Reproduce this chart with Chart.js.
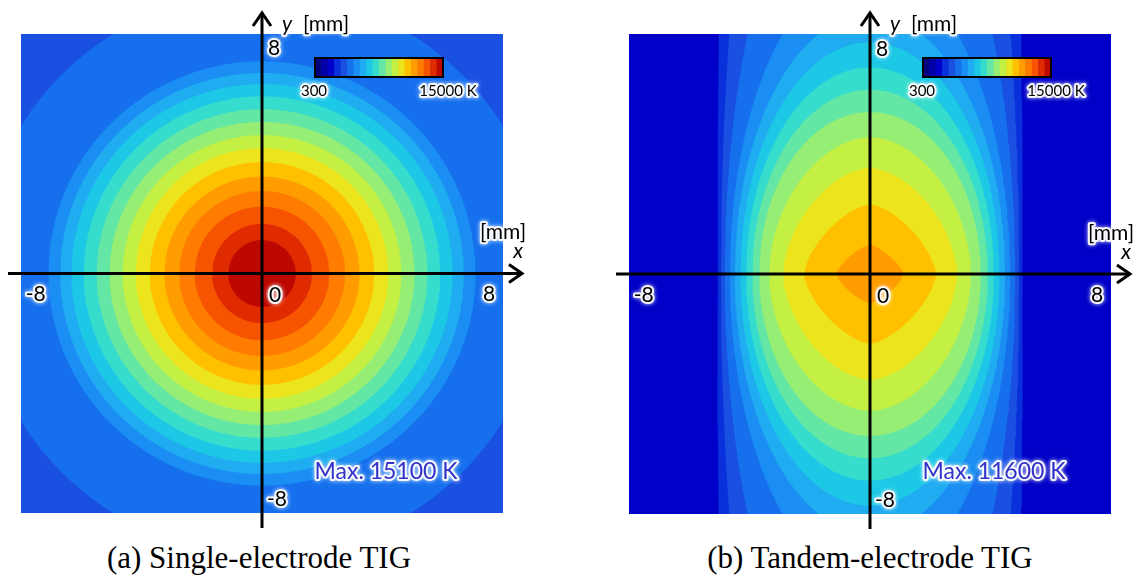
<!DOCTYPE html>
<html>
<head>
<meta charset="utf-8">
<script src="https://cdn.jsdelivr.net/npm/chart.js@4.4.1/dist/chart.umd.min.js"></script>
<style>
  html, body { margin: 0; padding: 0; background: #fff; }
  body { position: relative; width: 1143px; height: 583px; overflow: hidden; }
  .panel { position: absolute; top: 0; }
  #panelA { left: 0; }
  #panelB { left: 600px; }
  .caption {
    position: absolute; top: 540px; width: 420px; text-align: center;
    font-family: "Liberation Serif", "Times New Roman", serif; font-size: 31px; color: #000;
    white-space: nowrap;
  }
  #capA { left: 49px; }
  #capB { left: 660px; }
</style>
</head>
<body>
<canvas id="panelA" class="panel" width="540" height="540"></canvas>
<canvas id="panelB" class="panel" width="543" height="540"></canvas>
<div id="capA" class="caption">(a) Single-electrode TIG</div>
<div id="capB" class="caption">(b) Tandem-electrode TIG</div>

<script>
// Temperature scale: 20 equal bands from 300 K to 15000 K
const tempRangeK = [300, 15000];
const bandColors = [
  '#000080', '#0000a8', '#0000c8', '#0a30dc', '#1a50e2',
  '#1670ee', '#1a8ef2', '#20acf0', '#1cc8e6', '#36dccc',
  '#64e6a4', '#96ee74', '#c4f044', '#ece41c', '#ffc000',
  '#ff9c00', '#ff7c00', '#f65400', '#e02a00', '#bc0800'
];

// Plot window and labelled ticks [mm]
const axisRange = [-8.6, 8.6];
const axisTicks = [-8, 8];

// (a) single electrode: isotherms, innermost first (band enclosed, half-widths in x / y [mm])
const singleMaxK = 15100;
const singleBands = [19, 18, 17, 16, 15, 14, 13, 12, 11, 10, 9, 8, 7, 6, 5];
const singleRx = [1.2, 1.78, 2.4, 2.96, 3.48, 4.0, 4.5, 4.97, 5.44, 5.9, 6.36, 6.8, 7.2, 7.62, 10.1];
const singleRy = [1.2, 1.78, 2.4, 2.96, 3.48, 4.0, 4.5, 4.97, 5.44, 5.9, 6.36, 6.8, 7.2, 7.62, 10.1];
const singleShape = [2, 2, 2, 2, 2, 2, 2, 2, 2, 2, 2, 2, 2, 2, 2];
const singleOuterBand = 4;

// (b) tandem electrodes: isotherms stretched along y
const tandemMaxK = 11600;
const tandemBands = [15, 14, 13, 12, 11, 10, 9, 8, 7, 6, 5, 4, 3];
const tandemRx = [1.2, 2.35, 3.1, 3.6, 3.95, 4.2, 4.42, 4.62, 4.82, 5.0, 5.18, 5.32, 5.45];
const tandemRy = [1.05, 2.5, 3.8, 4.9, 5.8, 6.6, 7.4, 8.3, 9.3, 11.0, 16, 26, 60];
const tandemShape = [1.35, 1.5, 1.7, 1.85, 2, 2, 2, 2, 2, 2, 2, 2, 2];
const tandemOuterBand = 2;

// ---------------------------------------------------------------------------

// Closed outline of one isotherm (superellipse with given half-widths)
function isothermOutline(rx, ry, p) {
  const n = 360, pts = [];
  for (let i = 0; i < n; i++) {
    const t = (i / n) * 2 * Math.PI;
    const c = Math.cos(t), s = Math.sin(t);
    pts.push({
      x: rx * Math.sign(c) * Math.pow(Math.abs(c), 2 / p),
      y: ry * Math.sign(s) * Math.pow(Math.abs(s), 2 / p)
    });
  }
  return pts;
}

function isothermDatasets(bands, rxs, rys, shapes) {
  return bands.map((b, j) => ({
    data: isothermOutline(rxs[j], rys[j], shapes[j]),
    showLine: true,
    fill: 'shape',
    backgroundColor: bandColors[b],
    borderColor: 'rgba(0,0,0,0)',
    borderWidth: 0,
    pointRadius: 0,
    pointHoverRadius: 0,
    tension: 0
  }));
}

const LABEL_FONT = 'Lato, "Open Sans", sans-serif';

function haloText(ctx, text, x, y, size, color, italic) {
  ctx.save();
  ctx.font = (italic ? 'italic ' : '') + size + 'px ' + LABEL_FONT;
  ctx.textAlign = 'center';
  ctx.textBaseline = 'middle';
  ctx.lineJoin = 'round';
  ctx.shadowColor = 'rgba(255,255,255,0.95)';
  ctx.shadowBlur = 4;
  ctx.strokeStyle = 'rgba(255,255,255,0.9)';
  ctx.lineWidth = 4;
  ctx.strokeText(text, x, y);
  ctx.shadowBlur = 0;
  ctx.fillStyle = color;
  ctx.fillText(text, x, y);
  ctx.restore();
}

// Fills the area outside the outermost isotherm
const outerBandPlugin = {
  id: 'outerBand',
  beforeDatasetsDraw(chart, args, opts) {
    const {ctx, chartArea: a} = chart;
    ctx.save();
    ctx.fillStyle = bandColors[opts.band];
    ctx.fillRect(a.left, a.top, a.right - a.left, a.bottom - a.top);
    ctx.restore();
  }
};

// Axes through the origin with arrows, tick labels, colour bar and peak label
const overlayPlugin = {
  id: 'overlay',
  afterDatasetsDraw(chart) {
    const {ctx, chartArea: a} = chart;
    ctx.save();
    ctx.fillStyle = '#fff';
    ctx.fillRect(0, 0, chart.width, a.top);
    ctx.fillRect(0, a.bottom, chart.width, chart.height - a.bottom);
    ctx.fillRect(0, 0, a.left, chart.height);
    ctx.fillRect(a.right, 0, chart.width - a.right, chart.height);
    ctx.restore();
  },
  afterDraw(chart, args, opts) {
    const {ctx, chartArea: a, scales: {x, y}} = chart;
    const ox = x.getPixelForValue(0), oy = y.getPixelForValue(0);

    // axes
    ctx.save();
    ctx.strokeStyle = '#000';
    ctx.lineWidth = 3;
    ctx.lineCap = 'butt';
    ctx.lineJoin = 'miter';
    const xTip = a.right + 19, yTip = a.top - 21;
    ctx.beginPath();
    ctx.moveTo(a.left - 13, oy); ctx.lineTo(xTip - 1, oy);
    ctx.moveTo(ox, a.bottom + 15); ctx.lineTo(ox, yTip + 1);
    ctx.stroke();
    ctx.beginPath();
    ctx.moveTo(xTip - 13, oy - 9); ctx.lineTo(xTip, oy); ctx.lineTo(xTip - 13, oy + 9);
    ctx.moveTo(ox - 9, yTip + 13); ctx.lineTo(ox, yTip); ctx.lineTo(ox + 9, yTip + 13);
    ctx.stroke();
    ctx.restore();

    // tick labels
    axisTicks.forEach(v => {
      const t = String(v);
      haloText(ctx, t, x.getPixelForValue(v) + (v < 0 ? -2 : 3), oy + 21, 21, '#000');
      haloText(ctx, t, ox + (v < 0 ? 15 : 12), y.getPixelForValue(v) + (v < 0 ? 3 : -2), 21, '#000');
    });
    haloText(ctx, '0', ox + 13, oy + 22, 21, '#000');

    // axis names
    haloText(ctx, 'y', ox + 25, 24, 21, '#000', true);
    haloText(ctx, '[mm]', ox + 64, 24, 21, '#000');
    haloText(ctx, '[mm]', a.right, oy - 41, 21, '#000');
    haloText(ctx, 'x', a.right + 15, oy - 22, 21, '#000', true);

    // colour bar
    const cbL = ox + 53, cbT = 58, cbW = 128, cbH = 19;
    const n = bandColors.length;
    bandColors.forEach((c, i) => {
      ctx.fillStyle = c;
      ctx.fillRect(cbL + (i * cbW) / n, cbT, cbW / n + 0.5, cbH);
    });
    ctx.strokeStyle = '#000';
    ctx.lineWidth = 2;
    ctx.strokeRect(cbL, cbT, cbW, cbH);
    haloText(ctx, String(tempRangeK[0]), cbL - 1, 91, 15, '#000');
    haloText(ctx, tempRangeK[1] + ' K', cbL + cbW + 5, 91, 15, '#000');

    // peak temperature
    haloText(ctx, 'Max. ' + opts.maxK + ' K', ox + 124, 472, 23, '#3232c8');
  }
};

function makePanel(canvasId, padding, datasets, outerBand, maxK) {
  return new Chart(document.getElementById(canvasId), {
    type: 'scatter',
    data: {datasets},
    options: {
      responsive: false,
      animation: false,
      events: [],
      layout: {padding},
      plugins: {
        legend: {display: false},
        tooltip: {enabled: false},
        outerBand: {band: outerBand},
        overlay: {maxK}
      },
      scales: {
        x: {type: 'linear', min: axisRange[0], max: axisRange[1], display: false},
        y: {type: 'linear', min: axisRange[0], max: axisRange[1], display: false}
      }
    },
    plugins: [outerBandPlugin, overlayPlugin]
  });
}

makePanel('panelA', {left: 21, top: 34, right: 37, bottom: 27},
  isothermDatasets(singleBands, singleRx, singleRy, singleShape), singleOuterBand, singleMaxK);
makePanel('panelB', {left: 29, top: 34, right: 32, bottom: 26},
  isothermDatasets(tandemBands, tandemRx, tandemRy, tandemShape), tandemOuterBand, tandemMaxK);
</script>
</body>
</html>
